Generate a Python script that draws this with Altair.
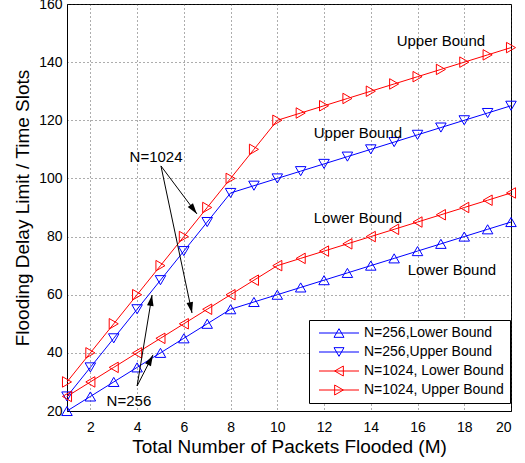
import math
import altair as alt
import pandas as pd

# ---- data ----
m_values = list(range(1, 21))
n256_lower = [20, 25, 30, 35, 40, 45, 50, 55, 57.5, 60, 62.5, 65, 67.5, 70, 72.5, 75, 77.5, 80, 82.5, 85]
n256_upper = [25, 35, 45, 55, 65, 75, 85, 95, 97.5, 100, 102.5, 105, 107.5, 110, 112.5, 115, 117.5, 120, 122.5, 125]
n1024_lower = [25, 30, 35, 40, 45, 50, 55, 60, 65, 70, 72.5, 75, 77.5, 80, 82.5, 85, 87.5, 90, 92.5, 95]
n1024_upper = [30, 40, 50, 60, 70, 80, 90, 100, 110, 120, 122.5, 125, 127.5, 130, 132.5, 135, 137.5, 140, 142.5, 145]

series_names = ["N=256,Lower Bound", "N=256,Upper Bound", "N=1024, Lower Bound", "N=1024, Upper Bound"]
series_colors = ["#0000ff", "#0000ff", "#ff0000", "#ff0000"]
series_shapes = ["triangle-up", "triangle-down", "triangle-left", "triangle-right"]
legend_shapes = [
    "M-4,0H4M0,-0.866L-1,0.866L1,0.866Z",
    "M-4,0H4M0,0.866L-1,-0.866L1,-0.866Z",
    "M-4,0H4M-0.866,0L0.866,-1L0.866,1Z",
    "M-4,0H4M0.866,0L-0.866,-1L-0.866,1Z",
]

# text annotations (data coordinates)
label_texts = ["Upper Bound", "Upper Bound", "Lower Bound", "Lower Bound", "N=1024", "N=256"]
label_x = [17.0, 13.45, 13.45, 17.47, 4.81, 3.65]
label_y = [147.4, 115.7, 86.4, 68.5, 107.4, 23.4]

# arrows: start -> end (data coordinates)
arrow_x0 = [5.02, 5.02, 4.0, 4.0]
arrow_y0 = [104.3, 104.3, 28.6, 28.6]
arrow_x1 = [6.56, 6.35, 4.64, 4.68]
arrow_y1 = [87.8, 53.7, 59.9, 39.3]

# ---- layout ----
W, H = 444, 407
X_DOM = [1, 20]
Y_DOM = [20, 160]
FONT = "Liberation Sans"

rows = []
for name, vals in zip(series_names, [n256_lower, n256_upper, n1024_lower, n1024_upper]):
    for m, v in zip(m_values, vals):
        rows.append({"M": m, "delay": v, "series": name})
df = pd.DataFrame(rows)

px_x = W / (X_DOM[1] - X_DOM[0])
px_y = H / (Y_DOM[1] - Y_DOM[0])
arrows = []
for x0, y0, x1, y1 in zip(arrow_x0, arrow_y0, arrow_x1, arrow_y1):
    dx = (x1 - x0) * px_x
    dy = -(y1 - y0) * px_y
    ang = math.degrees(math.atan2(dx, -dy)) % 360
    arrows.append({"x0": x0, "y0": y0, "x1": x1, "y1": y1, "ang": ang})
arr_df = pd.DataFrame(arrows)
lab_df = pd.DataFrame({"x": label_x, "y": label_y, "t": label_texts})

xs = alt.Scale(domain=X_DOM, nice=False, zero=False)
ys = alt.Scale(domain=Y_DOM, nice=False, zero=False)

x_axis = alt.Axis(values=list(range(2, 21, 2)), title="Total Number of Packets Flooded (M)",
                  grid=True, gridDash=[1, 3], gridColor="#333333", gridOpacity=0.8,
                  ticks=False, labelPadding=9, titlePadding=3, labelFontSize=14, titleFontSize=19,
                  labelFont=FONT, titleFont=FONT, labelColor="black", titleColor="black",
                  titleFontWeight="normal", domainColor="black")
y_axis = alt.Axis(values=list(range(20, 161, 20)), title="Flooding Delay Limit / Time Slots",
                  grid=True, gridDash=[1, 3], gridColor="#333333", gridOpacity=0.8,
                  ticks=False, labelPadding=5, titlePadding=6, labelFontSize=14, titleFontSize=19,
                  labelFont=FONT, titleFont=FONT, labelColor="black", titleColor="black",
                  titleFontWeight="normal", domainColor="black")

color_scale = alt.Scale(domain=series_names, range=series_colors)

base = alt.Chart(df)
lines = base.mark_line(strokeWidth=1).encode(
    x=alt.X("M:Q", scale=xs, axis=x_axis),
    y=alt.Y("delay:Q", scale=ys, axis=y_axis),
    color=alt.Color("series:N", scale=color_scale, legend=None),
    detail="series:N",
)
points = base.mark_point(filled=False, size=110, strokeWidth=1, opacity=1).encode(
    x=alt.X("M:Q", scale=xs),
    y=alt.Y("delay:Q", scale=ys),
    color=alt.Color("series:N", scale=color_scale, legend=None),
    shape=alt.Shape("series:N", scale=alt.Scale(domain=series_names, range=series_shapes), legend=None),
)

legend_layer = base.transform_filter("false").mark_point(filled=False, size=100, strokeWidth=1, opacity=1).encode(
    x=alt.X("M:Q", scale=xs),
    y=alt.Y("delay:Q", scale=ys),
    color=alt.Color("series:N", scale=color_scale,
                    legend=alt.Legend(title=None, orient="none", legendX=242, legendY=316)),
    shape=alt.Shape("series:N", scale=alt.Scale(domain=series_names, range=legend_shapes),
                    legend=alt.Legend(title=None, orient="none", legendX=242, legendY=316)),
)

arrow_lines = alt.Chart(arr_df).mark_rule(color="black", strokeWidth=1).encode(
    x=alt.X("x0:Q", scale=xs), y=alt.Y("y0:Q", scale=ys),
    x2="x1:Q", y2="y1:Q",
)
arrow_heads = alt.Chart(arr_df).mark_point(
    filled=True, color="black", size=120, opacity=1,
    shape="M0,0L-0.6,2L0.6,2Z",
).encode(
    x=alt.X("x1:Q", scale=xs), y=alt.Y("y1:Q", scale=ys),
    angle=alt.Angle("ang:Q", scale=None),
)
labels = alt.Chart(lab_df).mark_text(font=FONT, fontSize=15, color="black").encode(
    x=alt.X("x:Q", scale=xs), y=alt.Y("y:Q", scale=ys), text="t:N",
)

chart = alt.layer(lines, points, legend_layer, arrow_lines, arrow_heads, labels).resolve_scale(
    color="independent", shape="independent"
).properties(
    width=W, height=H,
    autosize=alt.AutoSizeParams(type="none"),
    padding={"left": 67, "top": 4, "right": 14, "bottom": 52},
    background="white",
).configure_view(
    stroke="black", strokeWidth=1
).configure_legend(
    strokeColor="black", fillColor="white", padding=6, cornerRadius=0,
    labelFont=FONT, labelFontSize=14, labelColor="black",
    symbolSize=100, symbolStrokeWidth=1, symbolOffset=17, labelOffset=18,
    rowPadding=5, symbolFillColor="transparent",
)

chart.save("out.html", embed_options={"renderer": "svg", "actions": False})
